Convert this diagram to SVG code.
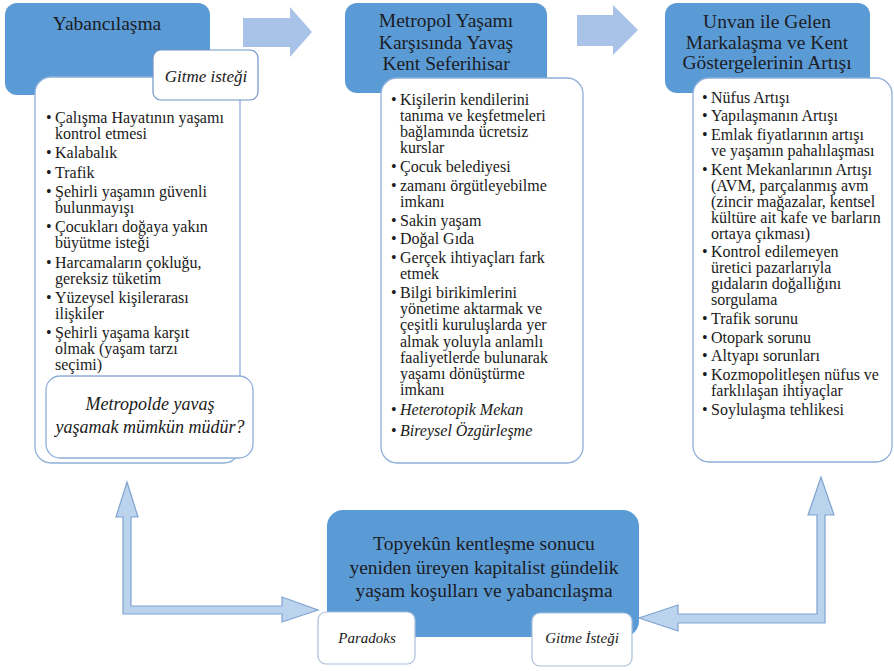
<svg xmlns="http://www.w3.org/2000/svg" width="894" height="671" viewBox="0 0 894 671">
<style>
.hdr{fill:#5b9bd5}
.panel{fill:#ffffff;stroke:#8fb0da;stroke-width:1.3}
.tag{fill:#ffffff;stroke:#6f95c8;stroke-width:1.2}
.tag2{fill:#ffffff;stroke:#a9bfdc;stroke-width:1.2}
.ht{font-family:'Liberation Serif','DejaVu Serif',serif;font-size:19.5px;fill:#1c1c24;text-anchor:middle}
.bt{font-family:'Liberation Serif','DejaVu Serif',serif;font-size:16px;fill:#1a1a1a}
.it{font-family:'Liberation Serif','DejaVu Serif',serif;font-style:italic;fill:#1a1a1a;text-anchor:middle}
.blk{fill:#a9c3e8}
.lar{fill:#bcd3ee;stroke:#7fa3d1;stroke-width:1.2}
</style>
<g id="connectors">
<polygon class="blk" points="243,18 290,18 290,7 312,32 290,57 290,47 243,47"/>
<polygon class="blk" points="577,15 613,15 613,5 638,30 613,55 613,46 577,46"/>
<polygon class="lar" points="123,614 123,517 116,517 127,482 138,517 131,517 131,606 282,606 282,597 318,610 282,622 282,614"/>
<polygon class="lar" points="825,623 825,515 834,515 821,477 808,515 817,515 817,614 678,614 678,605 639,618 678,631 678,623"/>
</g>
<g id="node-yabancilasma">
<rect class="hdr" x="5" y="3" width="205" height="92" rx="12"/>
<text class="ht" x="107" y="30">Yabancılaşma</text>
<rect class="panel" x="35" y="77" width="205" height="386" rx="16"/>
<rect class="tag" x="153" y="50" width="105" height="50" rx="8"/>
<text class="it" x="206" y="82" font-size="17">Gitme isteği</text>
<text class="bt">
<tspan x="46" y="123">•</tspan><tspan x="55">Çalışma Hayatının yaşamı</tspan>
<tspan x="55" y="139">kontrol etmesi</tspan>
<tspan x="46" y="158.3">•</tspan><tspan x="55">Kalabalık</tspan>
<tspan x="46" y="177.6">•</tspan><tspan x="55">Trafik</tspan>
<tspan x="46" y="196.9">•</tspan><tspan x="55">Şehirli yaşamın güvenli</tspan>
<tspan x="55" y="212.9">bulunmayışı</tspan>
<tspan x="46" y="232.2">•</tspan><tspan x="55">Çocukları doğaya yakın</tspan>
<tspan x="55" y="248.2">büyütme isteği</tspan>
<tspan x="46" y="267.5">•</tspan><tspan x="55">Harcamaların çokluğu,</tspan>
<tspan x="55" y="283.5">gereksiz tüketim</tspan>
<tspan x="46" y="302.8">•</tspan><tspan x="55">Yüzeysel kişilerarası</tspan>
<tspan x="55" y="318.8">ilişkiler</tspan>
<tspan x="46" y="338.1">•</tspan><tspan x="55">Şehirli yaşama karşıt</tspan>
<tspan x="55" y="354.1">olmak (yaşam tarzı</tspan>
<tspan x="55" y="370.1">seçimi)</tspan>
</text>
<rect class="panel" x="46" y="376" width="207" height="82" rx="14"/>
<text class="it" font-size="18"><tspan x="150" y="410">Metropolde yavaş</tspan><tspan x="150" y="433">yaşamak mümkün müdür?</tspan></text>
</g>
<g id="node-seferihisar">
<rect class="hdr" x="345" y="3" width="202" height="90" rx="12"/>
<text class="ht"><tspan x="446" y="27">Metropol Yaşamı</tspan><tspan x="446" y="48.5">Karşısında Yavaş</tspan><tspan x="446" y="70">Kent Seferihisar</tspan></text>
<rect class="panel" x="381" y="78" width="202" height="385" rx="16"/>
<text class="bt">
<tspan x="391" y="104.5">•</tspan><tspan x="400">Kişilerin kendilerini</tspan>
<tspan x="400" y="120.8">tanıma ve keşfetmeleri</tspan>
<tspan x="400" y="137.1">bağlamında ücretsiz</tspan>
<tspan x="400" y="153.4">kurslar</tspan>
<tspan x="391" y="172">•</tspan><tspan x="400">Çocuk belediyesi</tspan>
<tspan x="391" y="191.3">•</tspan><tspan x="400">zamanı örgütleyebilme</tspan>
<tspan x="400" y="207">imkanı</tspan>
<tspan x="391" y="225.5">•</tspan><tspan x="400">Sakin yaşam</tspan>
<tspan x="391" y="244.3">•</tspan><tspan x="400">Doğal Gıda</tspan>
<tspan x="391" y="263.2">•</tspan><tspan x="400">Gerçek ihtiyaçları fark</tspan>
<tspan x="400" y="279.2">etmek</tspan>
<tspan x="391" y="298.2">•</tspan><tspan x="400">Bilgi birikimlerini</tspan>
<tspan x="400" y="314.3">yönetime aktarmak ve</tspan>
<tspan x="400" y="330.4">çeşitli kuruluşlarda yer</tspan>
<tspan x="400" y="346.5">almak yoluyla anlamlı</tspan>
<tspan x="400" y="362.6">faaliyetlerde bulunarak</tspan>
<tspan x="400" y="378.7">yaşamı dönüştürme</tspan>
<tspan x="400" y="394.8">imkanı</tspan>
<tspan x="391" y="415">•</tspan><tspan x="400" font-style="italic">Heterotopik Mekan</tspan>
<tspan x="391" y="435.5">•</tspan><tspan x="400" font-style="italic">Bireysel Özgürleşme</tspan>
</text>
</g>
<g id="node-markalasma">
<rect class="hdr" x="665" y="3" width="205" height="90" rx="12"/>
<text class="ht"><tspan x="767" y="28">Unvan ile Gelen</tspan><tspan x="767" y="49">Markalaşma ve Kent</tspan><tspan x="767" y="69">Göstergelerinin Artışı</tspan></text>
<rect class="panel" x="693" y="78" width="199" height="384" rx="16"/>
<text class="bt">
<tspan x="702" y="102.5">•</tspan><tspan x="711">Nüfus Artışı</tspan>
<tspan x="702" y="121.2">•</tspan><tspan x="711">Yapılaşmanın Artışı</tspan>
<tspan x="702" y="139.9">•</tspan><tspan x="711">Emlak fiyatlarının artışı</tspan>
<tspan x="711" y="155.9">ve yaşamın pahalılaşması</tspan>
<tspan x="702" y="174.6">•</tspan><tspan x="711">Kent Mekanlarının Artışı</tspan>
<tspan x="711" y="190.6">(AVM, parçalanmış avm</tspan>
<tspan x="711" y="206.6">(zincir mağazalar, kentsel</tspan>
<tspan x="711" y="222.6">kültüre ait kafe ve barların</tspan>
<tspan x="711" y="238.6">ortaya çıkması)</tspan>
<tspan x="702" y="257.3">•</tspan><tspan x="711">Kontrol edilemeyen</tspan>
<tspan x="711" y="273.3">üretici pazarlarıyla</tspan>
<tspan x="711" y="289.3">gıdaların doğallığını</tspan>
<tspan x="711" y="305.3">sorgulama</tspan>
<tspan x="702" y="324">•</tspan><tspan x="711">Trafik sorunu</tspan>
<tspan x="702" y="342.7">•</tspan><tspan x="711">Otopark sorunu</tspan>
<tspan x="702" y="361.4">•</tspan><tspan x="711">Altyapı sorunları</tspan>
<tspan x="702" y="380.1">•</tspan><tspan x="711">Kozmopolitleşen nüfus ve</tspan>
<tspan x="711" y="396.1">farklılaşan ihtiyaçlar</tspan>
<tspan x="702" y="414.8">•</tspan><tspan x="711">Soylulaşma tehlikesi</tspan>
</text>
</g>
<g id="node-topyekun">
<rect class="hdr" x="327" y="510" width="312" height="127" rx="16"/>
<text class="ht" font-size="19"><tspan x="484" y="550">Topyekûn kentleşme sonucu</tspan><tspan x="484" y="574">yeniden üreyen kapitalist gündelik</tspan><tspan x="484" y="597">yaşam koşulları ve yabancılaşma</tspan></text>
<rect class="tag2" x="318" y="612" width="97" height="52" rx="8"/>
<text class="it" x="367" y="643" font-size="15">Paradoks</text>
<rect class="tag2" x="532" y="613" width="100" height="53" rx="8"/>
<text class="it" x="582" y="643" font-size="15">Gitme İsteği</text>
</g>
</svg>
